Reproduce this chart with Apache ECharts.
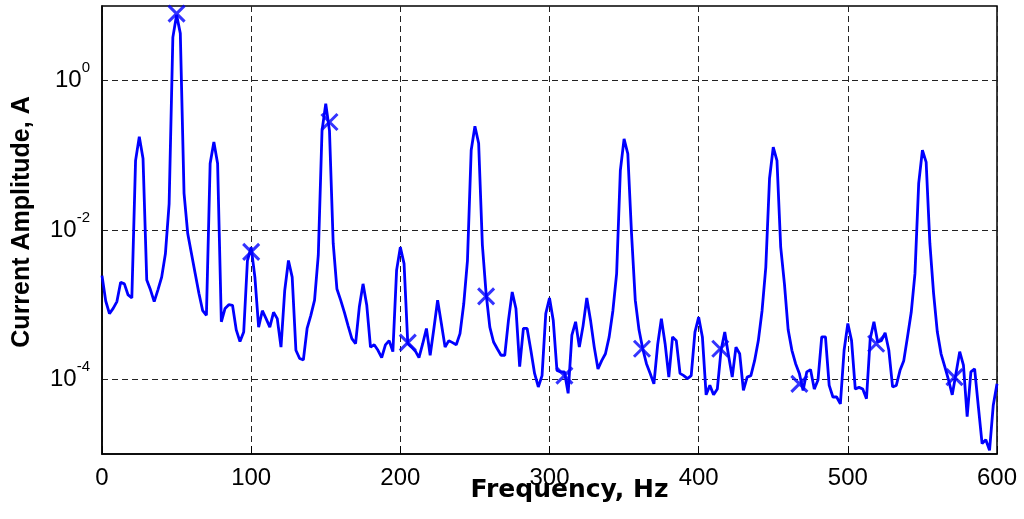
<!DOCTYPE html>
<html>
<head>
<meta charset="utf-8">
<script src="https://cdn.jsdelivr.net/npm/echarts@6/dist/echarts.min.js"></script>
<style>html,body{margin:0;padding:0;background:#fff}#c{width:1024px;height:519px}</style>
</head>
<body>
<div id="c"></div>
<script>
// Frequency bins (Hz)
var freqs = [
0,2.5,5,7.5,10,12.5,15,17.5,20,22.5,
25,27.5,30,32.5,35,37.5,40,42.5,45,47.5,
50,52.5,55,57.5,60,62.5,65,67.5,70,72.5,
75,77.5,80,82.5,85,87.5,90,92.5,95,97.5,
100,102.5,105,107.5,110,112.5,115,117.5,120,122.5,
125,127.5,130,132.5,135,137.5,140,142.5,145,147.5,
150,152.5,155,157.5,160,162.5,165,167.5,170,172.5,
175,177.5,180,182.5,185,187.5,190,192.5,195,197.5,
200,202.5,205,207.5,210,212.5,215,217.5,220,222.5,
225,227.5,230,232.5,235,237.5,240,242.5,245,247.5,
250,252.5,255,257.5,260,262.5,265,267.5,270,272.5,
275,277.5,280,282.5,285,287.5,290,292.5,295,297.5,
300,302.5,305,307.5,310,312.5,315,317.5,320,322.5,
325,327.5,330,332.5,335,337.5,340,342.5,345,347.5,
350,352.5,355,357.5,360,362.5,365,367.5,370,372.5,
375,377.5,380,382.5,385,387.5,390,392.5,395,397.5,
400,402.5,405,407.5,410,412.5,415,417.5,420,422.5,
425,427.5,430,432.5,435,437.5,440,442.5,445,447.5,
450,452.5,455,457.5,460,462.5,465,467.5,470,472.5,
475,477.5,480,482.5,485,487.5,490,492.5,495,497.5,
500,502.5,505,507.5,510,512.5,515,517.5,520,522.5,
525,527.5,530,532.5,535,537.5,540,542.5,545,547.5,
550,552.5,555,557.5,560,562.5,565,567.5,570,572.5,
575,577.5,580,582.5,585,587.5,590,592.5,595,597.5,
600
];
// Current amplitude (A)
var amplitude = [
2.45e-3,1.12e-3,7.6e-4,8.9e-4,1.1e-3,2.0e-3,1.9e-3,1.35e-3,1.23e-3,8.5e-2,
0.178,9.1e-2,2.14e-3,1.58e-3,1.1e-3,1.58e-3,2.34e-3,4.8e-3,2.24e-2,3.8,
7.6,4.3,3.1e-2,8.9e-3,4.8e-3,2.6e-3,1.41e-3,8.3e-4,7.2e-4,7.8e-2,
0.151,7.8e-2,5.9e-4,8.9e-4,1.0e-3,9.8e-4,4.6e-4,3.2e-4,4.3e-4,3.9e-3,
5.9e-3,2.34e-3,5.0e-4,8.3e-4,6.5e-4,5.0e-4,7.9e-4,6.5e-4,2.7e-4,1.55e-3,
3.9e-3,2.34e-3,2.45e-4,1.9e-4,1.82e-4,4.8e-4,7.2e-4,1.15e-3,4.6e-3,0.214,
0.49,0.214,6.6e-3,1.62e-3,1.15e-3,7.9e-4,5.2e-4,3.5e-4,3.0e-4,9.3e-4,
1.9e-3,9.8e-4,2.7e-4,2.9e-4,2.45e-4,1.95e-4,2.9e-4,3.3e-4,2.35e-4,2.9e-3,
5.9e-3,3.55e-3,3.0e-4,2.7e-4,2.4e-4,1.95e-4,3.0e-4,4.8e-4,2.1e-4,4.8e-4,
1.15e-3,5.6e-4,2.7e-4,3.3e-4,3.1e-4,2.9e-4,4.1e-4,1.02e-3,3.9e-3,0.117,
0.245,0.145,6.3e-3,1.41e-3,5.0e-4,3.16e-4,2.57e-4,2.1e-4,2.1e-4,6.2e-4,
1.48e-3,8.9e-4,1.48e-4,4.8e-4,4.8e-4,2.45e-4,1.2e-4,7.9e-5,1.12e-4,7.6e-4,
1.23e-3,6.2e-4,1.32e-4,1.26e-4,1.26e-4,6.5e-5,3.9e-4,5.9e-4,2.7e-4,5.2e-4,
1.23e-3,6.2e-4,2.7e-4,1.38e-4,1.78e-4,2.2e-4,3.7e-4,8.3e-4,2.6e-3,6.3e-2,
0.166,0.105,8.9e-3,1.15e-3,4.6e-4,2.57e-4,1.62e-4,1.2e-4,8.7e-5,2.9e-4,
6.5e-4,3.0e-4,1.07e-4,3.7e-4,3.3e-4,1.2e-4,1.12e-4,1.02e-4,1.12e-4,4.3e-4,
6.8e-4,3.7e-4,6.2e-5,8.3e-5,6.2e-5,7.4e-5,2.45e-4,4.3e-4,2.1e-4,1.07e-4,
2.7e-4,2.2e-4,7.1e-5,1.07e-4,1.12e-4,1.78e-4,3.3e-4,8.3e-4,3.16e-3,4.9e-2,
0.129,8.5e-2,5.9e-3,1.9e-3,4.6e-4,2.45e-4,1.62e-4,1.2e-4,7.1e-5,1.26e-4,
1.35e-4,7.4e-5,9.8e-5,3.7e-4,3.7e-4,8.3e-5,5.8e-5,5.8e-5,4.7e-5,2.45e-4,
5.6e-4,3.3e-4,7.4e-5,7.8e-5,7.4e-5,5.5e-5,3.5e-4,5.9e-4,3.16e-4,3.3e-4,
4.2e-4,2.45e-4,7.9e-5,8.3e-5,1.32e-4,1.78e-4,3.7e-4,7.9e-4,2.6e-3,4.2e-2,
0.117,8.1e-2,6.6e-3,1.41e-3,4.3e-4,2.2e-4,1.48e-4,9.8e-5,6.2e-5,1.2e-4,
2.35e-4,1.55e-4,3.16e-5,1.26e-4,1.38e-4,4.3e-5,1.38e-5,1.55e-5,1.12e-5,4.5e-5,
8.7e-5
];
// Marked harmonic points
var markerFreqs = [50, 100, 152.5, 205, 257.5, 310, 362, 414.5, 467.5, 519, 571.5];
var markerAmps = [7.9, 5.1e-3, 0.28, 3.1e-4, 1.29e-3, 1.12e-4, 2.57e-4, 2.57e-4, 8.7e-5, 3.0e-4, 1.07e-4];
var xTicks = [0, 100, 200, 300, 400, 500, 600];

var lineData = freqs.map(function (f, i) { return [f, amplitude[i]]; });
var markData = markerFreqs.map(function (f, i) { return [f, markerAmps[i]]; });

var FONT = 'Liberation Sans, Arial, Helvetica, sans-serif';
var chart = echarts.init(document.getElementById('c'), null, {renderer: 'canvas'});
chart.setOption({
  animation: false,
  backgroundColor: '#fff',
  grid: {left: 102, right: 27, top: 6, bottom: 65, outerBoundsMode: 'none', containLabel: false,
         show: true, borderColor: '#000', borderWidth: 1.5, backgroundColor: 'rgba(0,0,0,0)'},
  xAxis: {
    type: 'value', min: xTicks[0], max: xTicks[xTicks.length - 1], interval: 100,
    axisLine: {show: true, onZero: false, lineStyle: {color: '#000', width: 1.5}},
    axisTick: {show: true, inside: true, length: 8, lineStyle: {color: '#000', width: 1}},
    axisLabel: {margin: 12, color: '#000', fontSize: 24, fontFamily: FONT},
    splitLine: {show: true, lineStyle: {color: '#222', type: [6, 4], width: 1}},
    name: 'Frequency, Hz', nameLocation: 'middle', nameGap: 24, nameMoveOverlap: false,
    nameTextStyle: {color: '#000', fontSize: 25, fontWeight: 'bold', fontFamily: 'DejaVu Sans, sans-serif', padding: [0, 0, 0, 40]}
  },
  yAxis: {
    type: 'log', logBase: 10, min: 1e-5, max: 10,
    axisLine: {show: true, lineStyle: {color: '#000', width: 1.5}},
    axisTick: {show: false},
    axisLabel: {
      margin: 12, color: '#000', fontFamily: FONT,
      padding: [0, 0, 8, 0],
      formatter: function (v) {
        var e = Math.round(Math.log10(v));
        if (e % 2 !== 0 || e > 0 || e < -4) return '';
        return '{b|10}{s|' + e + '}';
      },
      rich: {
        b: {fontSize: 24, fontFamily: FONT, color: '#000', padding: [8, 0, 0, 0]},
        s: {fontSize: 15, fontFamily: FONT, color: '#000', verticalAlign: 'top'}
      }
    },
    splitLine: {show: true, lineStyle: {color: ['rgba(0,0,0,0)', '#222'], type: [6, 4], width: 1}},
    name: 'Current Amplitude, A', nameLocation: 'middle', nameGap: 67, nameRotate: 90, nameMoveOverlap: false,
    nameTextStyle: {color: '#000', fontSize: 25, fontWeight: 'bold', fontFamily: FONT, padding: [0, 0, 0, 16]}
  },
  series: [
    {
      type: 'line', data: lineData, showSymbol: false, symbol: 'none',
      lineStyle: {color: '#0000ff', width: 2.8}, itemStyle: {color: '#0000ff'}, z: 3
    },
    {
      type: 'scatter', data: markData,
      symbol: 'path://M0,0L10,10M10,0L0,10', symbolSize: 16,
      itemStyle: {color: 'rgba(0,0,0,0)', borderColor: '#0000ff', borderWidth: 3}, z: 4
    }
  ]
});
</script>
</body>
</html>
